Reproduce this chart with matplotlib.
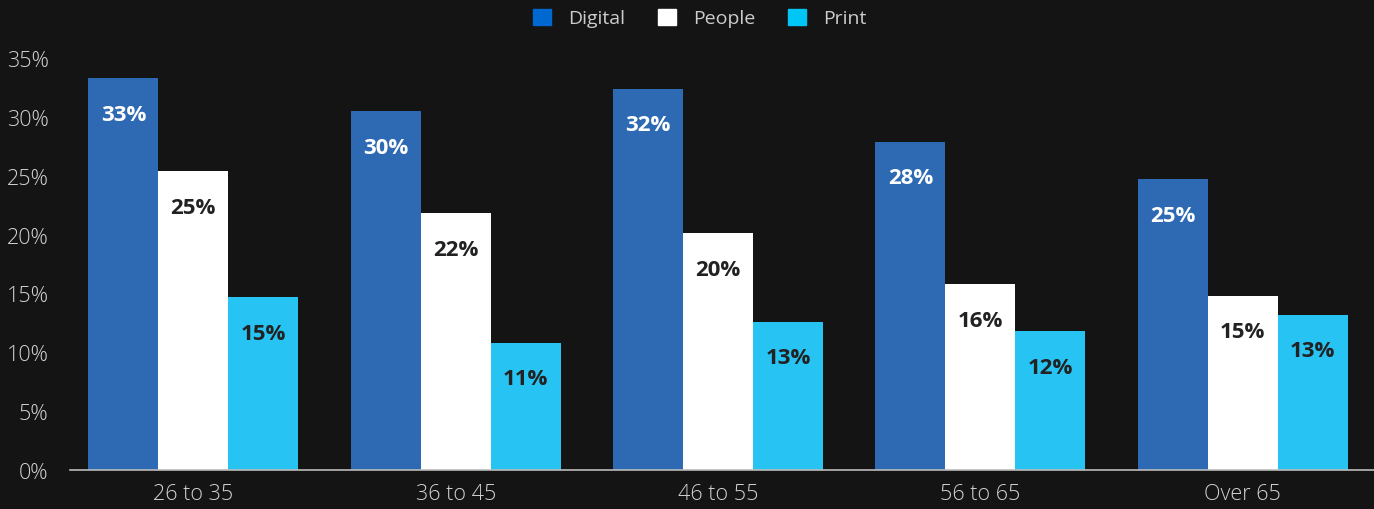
import numpy as np
import matplotlib.pyplot as plt

# 数据
groups = ["26 to 35", "36 to 45", "46 to 55", "56 to 65", "Over 65"]
series = ["Digital", "People", "Print"]
digital = [33.3, 30.5, 32.4, 27.9, 24.7]
people = [25.4, 21.8, 20.1, 15.8, 14.8]
prints = [14.7, 10.8, 12.6, 11.8, 13.2]
yticks = [0, 5, 10, 15, 20, 25, 30, 35]

bar_colors = ["#2e6ab3", "#ffffff", "#27c3f2"]
legend_colors = ["#0068d1", "#ffffff", "#00c6f5"]
label_colors = ["#ffffff", "#222222", "#222222"]
bg = "#141414"

plt.rcParams['font.family'] = ['Open Sans', 'DejaVu Sans']

fig = plt.figure(figsize=(13.74, 5.1), dpi=100, facecolor=bg)
ax = fig.add_axes([70 / 1374, 1 - 471 / 510, 1 - 70 / 1374, (471 - 59) / 510])
ax.set_facecolor(bg)

x = np.arange(len(groups))
w = 0.8 / 3
for i, vals in enumerate([digital, people, prints]):
    bars = ax.bar(x + (i - 1) * w, vals, width=w, color=bar_colors[i], label=series[i])
    for b, v in zip(bars, vals):
        ax.annotate(f"{round(v)}%", (b.get_x() + b.get_width() / 2, v),
                    xytext=(0, -26), textcoords="offset points",
                    ha="center", va="center", fontsize=16, fontweight="bold",
                    color=label_colors[i])

ax.set_xlim(-0.47, 4.5)
ax.set_ylim(0, 35)
ax.set_yticks(yticks)
ax.set_yticklabels([f"{t}%" for t in yticks])
ax.set_xticks(x)
ax.set_xticklabels(groups)
ax.tick_params(length=0, labelsize=15.5, colors="#d2d2d2")
ax.tick_params(axis="y", pad=15.5)
ax.tick_params(axis="x", pad=9)
for t in ax.get_xticklabels() + ax.get_yticklabels():
    t.set_fontweight("light")
for s in ["top", "right", "left"]:
    ax.spines[s].set_visible(False)
ax.spines["bottom"].set_color("#bbbbbb")
ax.spines["bottom"].set_linewidth(1.2)

# 图例
handles = [plt.Rectangle((0, 0), 1, 1, color=c) for c in legend_colors]
fig.legend(handles, series, loc="center", bbox_to_anchor=(700 / 1374, 1 - 19 / 510),
           ncol=3, frameon=False, fontsize=14, labelcolor="#cccccc",
           handlelength=0.9, handleheight=0.9, handletextpad=0.9, columnspacing=1.7)

fig.savefig("out.png", dpi=100, facecolor=bg)
